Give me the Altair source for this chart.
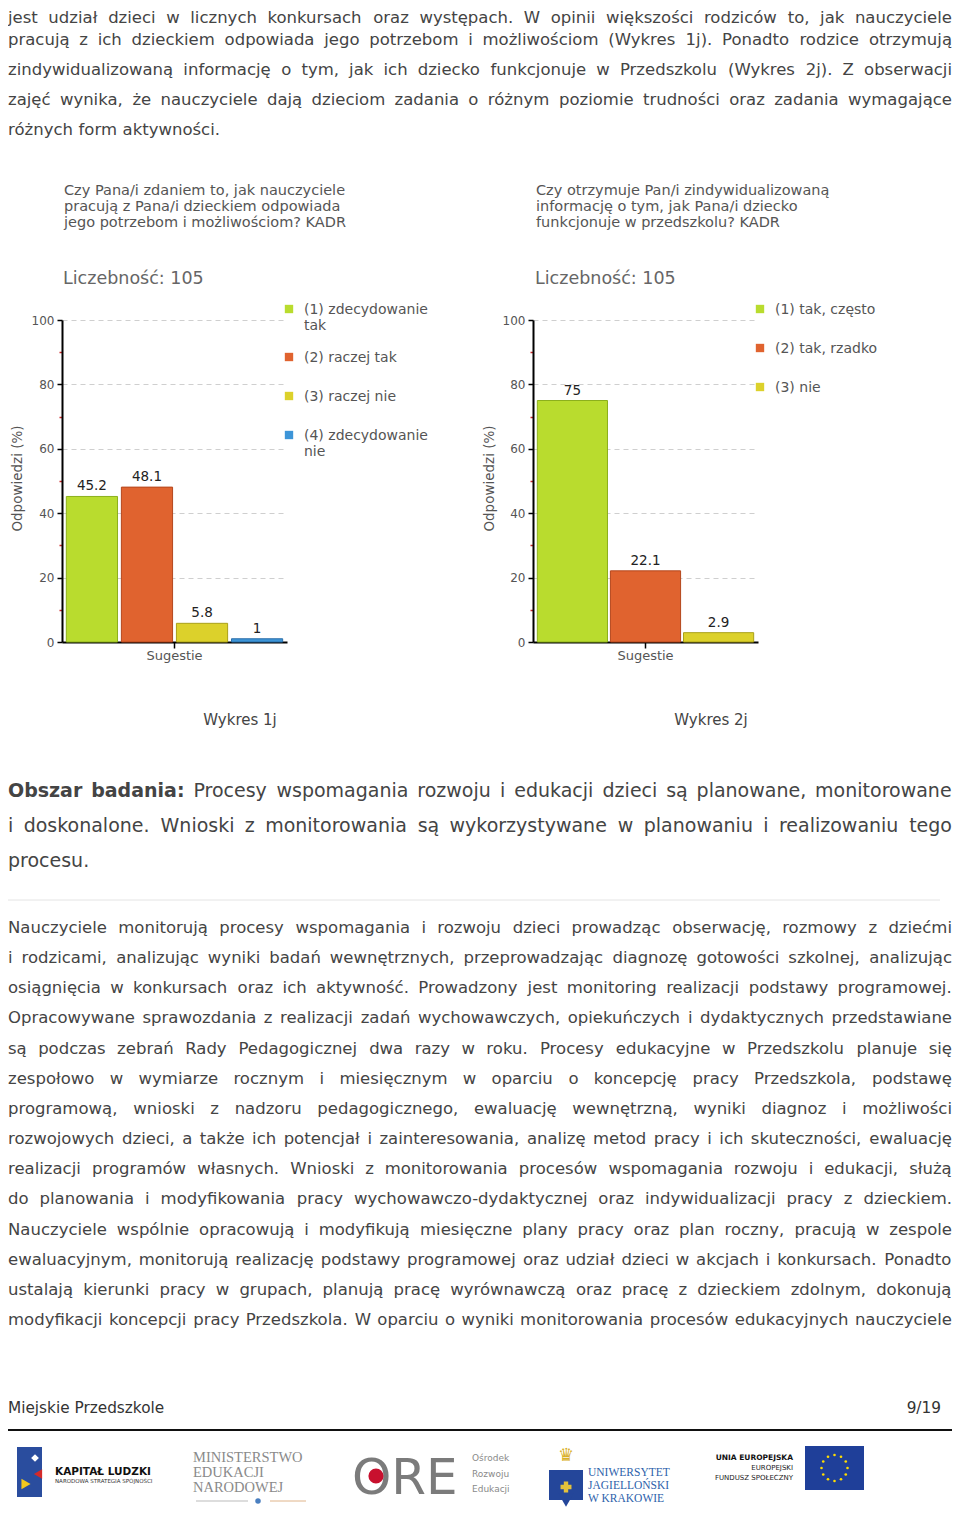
import math
import altair as alt
import pandas as pd

W, H = 944, 1501
FONT = "DejaVu Sans"
TEXT = "#444444"

# ------------------------------------------------------------------ data
q1_title = ["Czy Pana/i zdaniem to, jak nauczyciele",
            "pracują z Pana/i dzieckiem odpowiada",
            "jego potrzebom i możliwościom? KADR"]
q2_title = ["Czy otrzymuje Pan/i zindywidualizowaną",
            "informację o tym, jak Pana/i dziecko",
            "funkcjonuje w przedszkolu? KADR"]
q1_count = 105
q2_count = 105
q1_answers = ["(1) zdecydowanie tak", "(2) raczej tak", "(3) raczej nie", "(4) zdecydowanie nie"]
q1_values = [45.2, 48.1, 5.8, 1.0]
q2_answers = ["(1) tak, często", "(2) tak, rzadko", "(3) nie"]
q2_values = [75.0, 22.1, 2.9]
group_label = "Sugestie"
y_title = "Odpowiedzi (%)"
captions = ["Wykres 1j", "Wykres 2j"]
answer_fill = ["#b9dc2e", "#e0632f", "#dcd12b", "#3d95d8"]
answer_stroke = ["#8cb01c", "#b4471d", "#aaa019", "#2b6ea8"]

para_top = [
    "jest udział dzieci w licznych konkursach oraz występach. W opinii większości rodziców to, jak nauczyciele",
    "pracują z ich dzieckiem odpowiada jego potrzebom i możliwościom (Wykres 1j). Ponadto rodzice otrzymują",
    "zindywidualizowaną informację o tym, jak ich dziecko funkcjonuje w Przedszkolu (Wykres 2j). Z obserwacji",
    "zajęć wynika, że nauczyciele dają dzieciom zadania o różnym poziomie trudności oraz zadania wymagające",
    "różnych form aktywności.",
]
heading_bold = "Obszar badania:"
para_heading = [
    "Obszar badania: Procesy wspomagania rozwoju i edukacji dzieci są planowane, monitorowane",
    "i doskonalone. Wnioski z monitorowania są wykorzystywane w planowaniu i realizowaniu tego",
    "procesu.",
]
para_body = [
    "Nauczyciele monitorują procesy wspomagania i rozwoju dzieci prowadząc obserwację, rozmowy z dziećmi",
    "i rodzicami, analizując wyniki badań wewnętrznych, przeprowadzając diagnozę gotowości szkolnej, analizując",
    "osiągnięcia w konkursach oraz ich aktywność. Prowadzony jest monitoring realizacji podstawy programowej.",
    "Opracowywane sprawozdania z realizacji zadań wychowawczych, opiekuńczych i dydaktycznych przedstawiane",
    "są podczas zebrań Rady Pedagogicznej dwa razy w roku. Procesy edukacyjne w Przedszkolu planuje się",
    "zespołowo w wymiarze rocznym i miesięcznym w oparciu o koncepcję pracy Przedszkola, podstawę",
    "programową, wnioski z nadzoru pedagogicznego, ewaluację wewnętrzną, wyniki diagnoz i możliwości",
    "rozwojowych dzieci, a także ich potencjał i zainteresowania, analizę metod pracy i ich skuteczności, ewaluację",
    "realizacji programów własnych. Wnioski z monitorowania procesów wspomagania rozwoju i edukacji, służą",
    "do planowania i modyfikowania pracy wychowawczo-dydaktycznej oraz indywidualizacji pracy z dzieckiem.",
    "Nauczyciele wspólnie opracowują i modyfikują miesięczne plany pracy oraz plan roczny, pracują w zespole",
    "ewaluacyjnym, monitorują realizację podstawy programowej oraz udział dzieci w akcjach i konkursach. Ponadto",
    "ustalają kierunki pracy w grupach, planują pracę wyrównawczą oraz pracę z dzieckiem zdolnym, dokonują",
    "modyfikacji koncepcji pracy Przedszkola. W oparciu o wyniki monitorowania procesów edukacyjnych nauczyciele",
]
footer_left = "Miejskie Przedszkole"
footer_right = "9/19"

# ------------------------------------------------------------------ text metrics (DejaVu Sans, em)
EM = {" ": 0.318, "a": 0.613, "b": 0.635, "c": 0.550, "d": 0.635, "e": 0.615, "f": 0.352, "g": 0.635,
      "h": 0.634, "i": 0.278, "j": 0.278, "k": 0.579, "l": 0.278, "m": 0.974, "n": 0.634, "o": 0.612,
      "p": 0.635, "q": 0.635, "r": 0.411, "s": 0.521, "t": 0.392, "u": 0.634, "v": 0.592, "w": 0.818,
      "x": 0.592, "y": 0.592, "z": 0.525, "A": 0.684, "B": 0.686, "C": 0.698, "D": 0.770, "E": 0.632,
      "F": 0.575, "G": 0.775, "H": 0.752, "I": 0.295, "J": 0.295, "K": 0.656, "L": 0.557, "M": 0.863,
      "N": 0.748, "O": 0.787, "P": 0.603, "Q": 0.787, "R": 0.695, "S": 0.635, "T": 0.611, "U": 0.732,
      "V": 0.684, "W": 0.989, "X": 0.685, "Y": 0.611, "Z": 0.685, ".": 0.318, ",": 0.318, ":": 0.337,
      ";": 0.337, "(": 0.390, ")": 0.390, "-": 0.361, "/": 0.337, "?": 0.531, "%": 0.950,
      "ł": 0.300, "Ł": 0.562}
for d in "0123456789":
    EM[d] = 0.636
ACC = {"ą": "a", "ę": "e", "ć": "c", "ń": "n", "ó": "o", "ś": "s", "ź": "z", "ż": "z",
       "Ó": "O", "Ś": "S", "Ż": "Z", "Ź": "Z", "Ć": "C"}
EMB = {"O": 0.850, "b": 0.716, "s": 0.595, "z": 0.582, "a": 0.675, "r": 0.493, "d": 0.716,
       "n": 0.712, "i": 0.343, ":": 0.400, " ": 0.348}


def tw(s, bold=False):
    tot = 0.0
    for ch in s:
        ch = ACC.get(ch, ch)
        if bold:
            tot += EMB.get(ch, EM.get(ch, 0.6) * 1.12)
        else:
            tot += EM.get(ch, 0.6)
    return tot


def fit_size(paras, fs0):
    fs = fs0
    for lines, justify_last in paras:
        for i, line in enumerate(lines):
            if i == len(lines) - 1 and not justify_last:
                continue
            words = line.split(" ")
            em = sum(tw(w) for w in words)
            fs = min(fs, (W - 3.0 * (len(words) - 1)) / em)
    return fs


def layout(lines, fs, baselines, justify_last, bold_prefix=""):
    rows = []
    for li, (line, yb) in enumerate(zip(lines, baselines)):
        words = line.split(" ")
        nb = len(bold_prefix.split(" ")) if (li == 0 and bold_prefix and line.startswith(bold_prefix)) else 0
        flags = [k < nb for k in range(len(words))]
        widths = [tw(w, b) * fs for w, b in zip(words, flags)]
        justified = justify_last or li < len(lines) - 1
        if justified and len(words) > 1:
            gap = (W - sum(widths)) / (len(words) - 1)
        else:
            gap = tw(" ") * fs
        x = 0.0
        for w, wd, b in zip(words, widths, flags):
            rows.append({"word": w, "x": x, "y": yb, "fs": fs, "bold": b})
            x += wd + gap
    return rows


fs_body = fit_size([(para_top, False), (para_body, True)], 16.5)
fs_head = fit_size([(para_heading, False)], 19.0)

rows = []
rows += layout(para_top, fs_body, [15, 37, 67, 97, 127], False)
rows += layout(para_heading, fs_head, [789, 824, 859], False, heading_bold)
rows += layout(para_body, fs_body, [925 + 30.15 * i for i in range(len(para_body))], True)
words_df = pd.DataFrame(rows)


def word_layer(df, weight):
    return alt.Chart(df).mark_text(align="left", baseline="alphabetic", font=FONT,
                                   color=TEXT, fontWeight=weight).encode(
        x=alt.X("x:Q", scale=None, axis=None),
        y=alt.Y("y:Q", scale=None, axis=None),
        size=alt.Size("fs:Q", scale=None, legend=None),
        text="word:N",
    )


def txt(s, x, y, size, color=TEXT, align="left", baseline="alphabetic", weight="normal",
        font=FONT, **kw):
    return alt.Chart(pd.DataFrame({"t": [s]})).mark_text(
        align=align, baseline=baseline, fontSize=size, color=color, fontWeight=weight,
        font=font, **kw).encode(text="t:N", x=alt.value(x), y=alt.value(y))


def rule(x1, x2, y1, y2, color, width):
    return alt.Chart(pd.DataFrame({"a": [0]})).mark_rule(color=color, strokeWidth=width).encode(
        x=alt.value(x1), x2=alt.value(x2), y=alt.value(y1), y2=alt.value(y2))


def rect(x1, x2, y1, y2, color):
    return alt.Chart(pd.DataFrame({"a": [0]})).mark_rect(color=color).encode(
        x=alt.value(x1), x2=alt.value(x2), y=alt.value(y1), y2=alt.value(y2))


def dot(x, y, size, color, shape="circle"):
    return alt.Chart(pd.DataFrame({"a": [0]})).mark_point(
        filled=True, size=size, color=color, shape=shape, opacity=1).encode(
        x=alt.value(x), y=alt.value(y))


Y0, Y100 = 634, 312


def panel(answers, values, px0, px1, pad_inner, ytitle_x):
    k = len(answers)
    df = pd.DataFrame({"group": [group_label] * k, "answer": answers, "value": values,
                       "label": [f"{v:g}" for v in values]})
    x_enc = alt.X("group:N", title=None,
                  scale=alt.Scale(range=[px0, px1], paddingInner=0, paddingOuter=0.02),
                  axis=alt.Axis(orient="bottom", offset=Y0 - H, grid=False, domainColor="#000000",
                                domainWidth=2, tickColor="#000000", tickSize=6, tickWidth=1.5,
                                labelColor="#555555", labelFont=FONT, labelFontSize=13,
                                labelPadding=1, labelAngle=0))
    xo_enc = alt.XOffset("answer:N", sort=answers,
                         scale=alt.Scale(domain=answers, paddingInner=pad_inner, paddingOuter=0))
    y_enc = alt.Y("value:Q",
                  scale=alt.Scale(domain=[0, 100], range=[Y0, Y100], nice=False),
                  axis=alt.Axis(
                      orient="left", offset=-px0, values=list(range(0, 101, 10)),
                      labelExpr="datum.value % 20 == 0 ? datum.label : ''",
                      tickColor=alt.condition("datum.value % 20 == 0", alt.value("#000000"), alt.value("#cc2b2b")),
                      tickSize=alt.condition("datum.value % 20 == 0", alt.value(5), alt.value(3)),
                      tickWidth=1.5,
                      grid=True, gridColor="#cfcfcf", gridDash=[5, 4],
                      gridOpacity=alt.condition("datum.value % 20 == 0 && datum.value > 0", alt.value(1), alt.value(0)),
                      domainColor="#000000", domainWidth=2,
                      labelColor="#555555", labelFont=FONT, labelFontSize=12, labelPadding=3,
                      title=y_title, titleX=ytitle_x - px0, titleY=470, titleAngle=270,
                      titleAlign="center", titleBaseline="middle", titleColor="#555555",
                      titleFont=FONT, titleFontSize=13.5, titleFontWeight="normal"))
    bars = alt.Chart(df).mark_bar(strokeWidth=1).encode(
        x=x_enc, xOffset=xo_enc, y=y_enc,
        fill=alt.Fill("answer:N", scale=alt.Scale(domain=answers, range=answer_fill[:k]), legend=None),
        stroke=alt.Stroke("answer:N", scale=alt.Scale(domain=answers, range=answer_stroke[:k]), legend=None),
    )
    labels = alt.Chart(df).mark_text(baseline="bottom", dy=-3, font=FONT, fontSize=13.5,
                                     color="#222222").encode(
        x=x_enc, xOffset=xo_enc, y=y_enc, text="label:N")
    return alt.layer(bars, labels)


def legend(answers, x, y_start):
    out = []
    y = y_start
    for i, a in enumerate(answers):
        lab = a
        if len(a) > 16:
            p = a.rfind(" ")
            lab = a[:p] + "\n" + a[p + 1:]
        out.append(dot(x, y, 70, answer_fill[i], shape="square"))
        out.append(alt.Chart(pd.DataFrame({"t": [lab]})).mark_text(
            align="left", baseline="alphabetic", fontSize=14, color="#555555", font=FONT,
            lineBreak="\n", lineHeight=16).encode(text="t:N", x=alt.value(x + 15), y=alt.value(y + 5)))
        y += 39 + 9 * lab.count("\n")
    return out


layers = []
layers.append(word_layer(words_df[~words_df["bold"]], "normal"))
layers.append(word_layer(words_df[words_df["bold"]], "bold"))

# panel 1
for i, line in enumerate(q1_title):
    layers.append(txt(line, 56, 187 + 16 * i, 14.5, color="#555555"))
layers.append(txt(f"Liczebność: {q1_count}", 55, 276, 17.5, color="#666666"))
layers.append(panel(q1_answers, q1_values, 54, 279, 0.07, 9))
layers += legend(q1_answers, 281, 301)
layers.append(txt(captions[0], 232, 717, 15, align="center"))

# panel 2
for i, line in enumerate(q2_title):
    layers.append(txt(line, 528, 187 + 16 * i, 14.5, color="#555555"))
layers.append(txt(f"Liczebność: {q2_count}", 527, 276, 17.5, color="#666666"))
layers.append(panel(q2_answers, q2_values, 525, 750, 0.04, 481))
layers += legend(q2_answers, 752, 301)
layers.append(txt(captions[1], 703, 717, 15, align="center"))

# separators and footer
layers.append(rule(0, 932, 892, 892, "#e4e4e4", 1))
layers.append(txt(footer_left, 0, 1405, 15.3, color="#333333"))
layers.append(txt(footer_right, 933, 1405, 15.3, color="#333333", align="right"))
layers.append(rule(0, 944, 1422, 1422, "#111111", 2))

# logos (approximate)
layers.append(rect(9, 34, 1439, 1489, "#2a4d9e"))
layers.append(dot(27, 1450, 60, "#ffffff", shape="diamond"))
layers.append(dot(30, 1466, 90, "#d42a2a", shape="triangle-left"))
layers.append(dot(18, 1476, 110, "#f2c81e", shape="triangle-right"))
layers.append(txt("KAPITAŁ LUDZKI", 47, 1467, 10.5, color="#111111", weight="bold"))
layers.append(txt("NARODOWA STRATEGIA SPÓJNOŚCI", 47, 1475, 5.5, color="#333333"))

for i, s in enumerate(["MINISTERSTWO", "EDUKACJI", "NARODOWEJ"]):
    layers.append(txt(s, 185, 1454 + 15 * i, 14.5, color="#8a8a8a", font="Liberation Serif"))
layers.append(rule(188, 240, 1493, 1493, "#bbbbbb", 1))
layers.append(rule(262, 298, 1493, 1493, "#e0b48a", 1))
layers.append(dot(250, 1493, 30, "#4a7fc0", shape="circle"))

layers.append(txt("ORE", 344, 1486, 50, color="#7b7b7b"))
layers.append(dot(368, 1468, 230, "#c8102e"))
for i, s in enumerate(["Ośrodek", "Rozwoju", "Edukacji"]):
    layers.append(txt(s, 464, 1453 + 15.5 * i, 9, color="#8a8a8a"))

layers.append(txt("♛", 558, 1448, 18, color="#d9b02a", align="center", baseline="middle"))
layers.append(rect(541, 575, 1462, 1492, "#24469a"))
layers.append(dot(558, 1492, 240, "#24469a", shape="triangle-down"))
layers.append(dot(558, 1479, 120, "#e3c13b", shape="cross"))
for i, s in enumerate(["UNIWERSYTET", "JAGIELLOŃSKI", "W KRAKOWIE"]):
    layers.append(txt(s, 580, 1468 + 13 * i, 11.5, color="#2d5fab", font="Liberation Serif"))

layers.append(txt("UNIA EUROPEJSKA", 785, 1452, 7.5, color="#111111", align="right", weight="bold"))
layers.append(txt("EUROPEJSKI", 785, 1462, 7, color="#222222", align="right"))
layers.append(txt("FUNDUSZ SPOŁECZNY", 785, 1472, 7, color="#222222", align="right"))
layers.append(rect(797, 856, 1438, 1482, "#1f3f99"))
star_pos = [(826.5 + 13 * math.cos(k * math.pi / 6), 1460 + 13 * math.sin(k * math.pi / 6)) for k in range(12)]
for sx, sy in star_pos:
    layers.append(dot(sx, sy, 7, "#ffdd00"))

chart = alt.layer(*layers).properties(
    width=W, height=H, padding=0, autosize=alt.AutoSizeParams(type="none")
).resolve_scale(
    x="independent", y="independent", fill="independent", stroke="independent",
    xOffset="independent", size="independent"
).resolve_axis(
    x="independent", y="independent"
).configure_view(stroke="transparent")

chart.save("out.html", embed_options={"renderer": "svg", "actions": False})
